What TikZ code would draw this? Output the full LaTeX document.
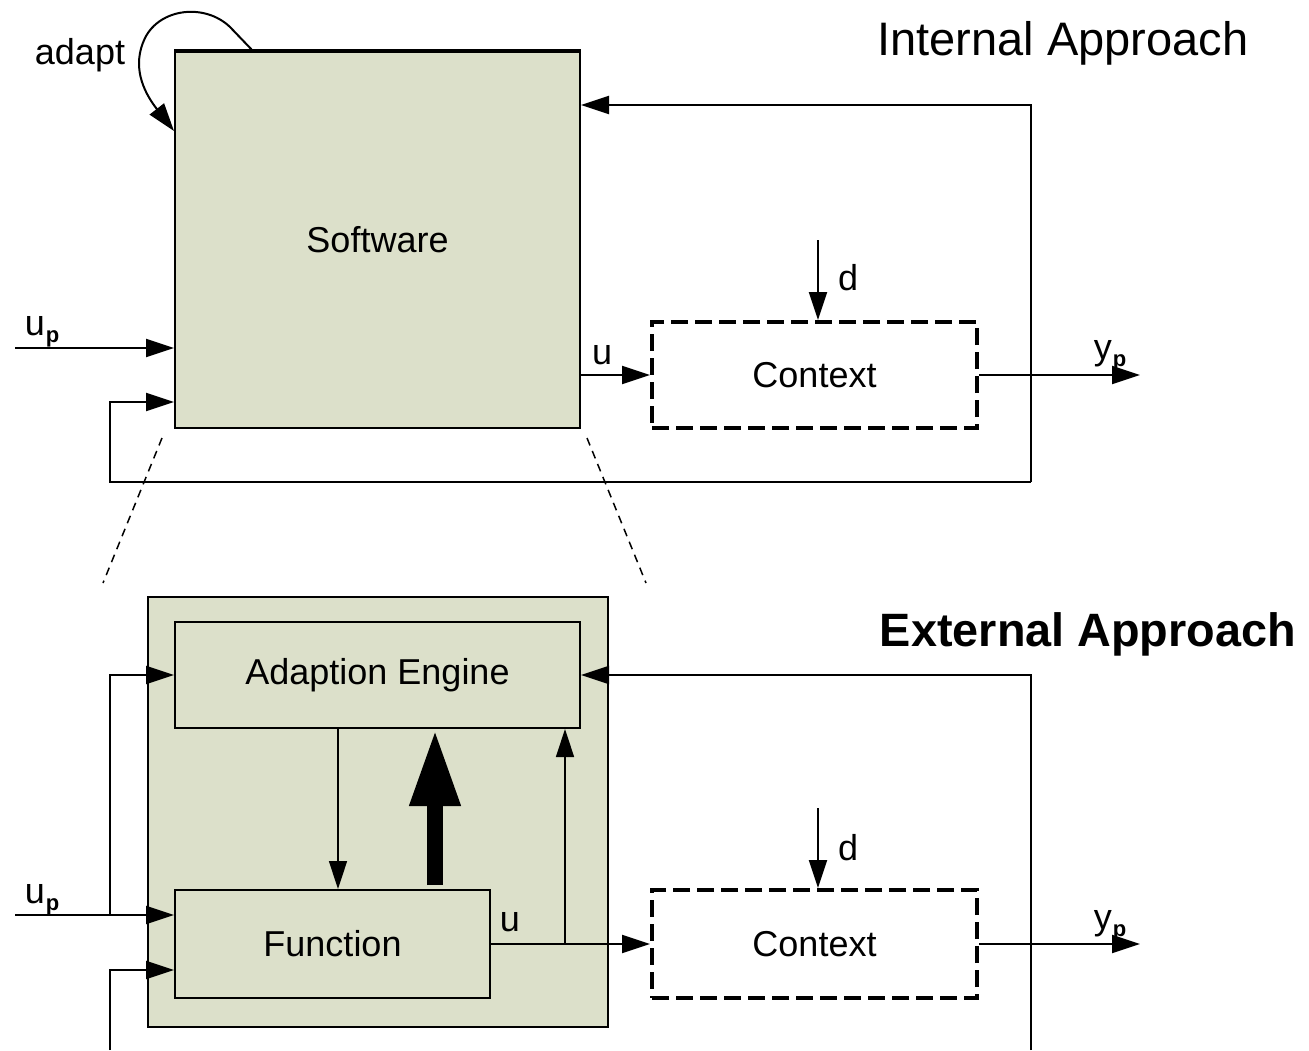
\documentclass[tikz,border=0pt]{standalone}
\usepackage{fontspec}
\setmainfont{Liberation Sans}
\usetikzlibrary{arrows.meta,calc}
\definecolor{boxfill}{RGB}{220,224,202}
\tikzset{
  every node/.style={font=\fontsize{18}{21}\selectfont},
  block/.style={draw, line width=1pt, fill=boxfill, inner sep=0pt},
  ctxbox/.style={draw, line width=2pt, dash pattern=on 8.5pt off 3.5pt, inner sep=0pt,
    minimum width=162.5pt},
  arr/.style={line width=1pt, -{Triangle[length=14pt,width=9pt]}},
  thinarr/.style={line width=0.75pt, -{Triangle[length=14pt,width=9pt]}},
  bigarr/.style={line width=8pt, -{Triangle[length=38.5pt,width=23.5pt]}},
  zoomline/.style={line width=0.75pt, dash pattern=on 4pt off 3pt},
  lbl/.style={inner sep=0pt},
  title/.style={inner sep=0pt, font=\fontsize{23.5}{28}\selectfont}
}
% signal name with a small bold "p" index
\newcommand{\subp}[1]{#1\kern0.5pt\raisebox{-0.35ex}{\fontsize{11}{12}\selectfont\bfseries p}}
\begin{document}
\begin{tikzpicture}[x=0.5pt,y=-0.5pt]
\useasboundingbox (0,0) rectangle (1309,1050);

% ---------------- internal approach ----------------
\node[title] (tint) at (1063,43) {Internal Approach};
\node[block, minimum width=202.5pt, minimum height=188pt] (sw) at (377.5,240) {Software};
\draw[line width=2pt] (sw.north west) -- (sw.north east);
\node[ctxbox, minimum height=53pt] (ctx) at (814.5,375) {Context};

% self adaptation loop
\node[lbl] (adapt) at (80,55) {adapt};
\coordinate (ls) at (253,51);
\coordinate (le) at (174,131);
\draw[arr] (ls) -- (230,27) .. controls (205,3) and (160,8) .. (145,38)
  .. controls (132,65) and (142,90) .. (le);

% inputs and outputs
\coordinate (upin) at (15,348);
\draw[arr] (upin) -- (upin -| sw.west);
\node[lbl] (uplbl) at (42,332) {\subp{u}};
\draw[arr] (ctx.west -| sw.east) -- (ctx.west);
\node[lbl] (ulbl) at (602,355) {u};
\coordinate (din) at (818,240);
\draw[arr] (din) -- (din |- ctx.north);
\node[lbl] (dlbl) at (848,278) {d};
\draw[arr] (ctx.east) -- ++(161,0) coordinate (ypout);
\node[lbl] (yplbl) at (1110,356) {\subp{y}};

% feedback loop
\coordinate (fbtr) at (1031,105);
\coordinate (fbbl) at (110,482);
\coordinate (fbin) at (110,402);
\draw[arr] (fbtr |- fbbl) -- (fbtr) -- (fbtr -| sw.east);
\draw[arr] (fbtr |- fbbl) -- (fbbl) -- (fbin) -- (fbin -| sw.west);

% zoom lines
\coordinate (z1a) at (162,438); \coordinate (z1b) at (103,583);
\coordinate (z2a) at (587,438); \coordinate (z2b) at (646,583);
\draw[zoomline] (z1a) -- (z1b);
\draw[zoomline] (z2a) -- (z2b);

% ---------------- external approach ----------------
\node[title, font=\fontsize{23.4}{28}\selectfont\bfseries] (text) at (1088,634) {External Approach};
\node[block, minimum width=230pt, minimum height=215pt] (outer) at (378,812) {};
\node[block, minimum width=202.5pt, minimum height=53pt] (ae) at (377.5,675) {Adaption Engine};
\node[block, minimum width=157.5pt, minimum height=54pt] (fn) at (332.5,944) {Function};
\node[ctxbox, minimum height=54pt] (ctx2) at (814.5,944) {Context};

% engine -> function and function -> engine
\coordinate (c1) at (338,0);
\draw[thinarr] (c1 |- ae.south) -- (c1 |- fn.north);
\coordinate (c2) at (435,0);
\draw[bigarr, shorten <=2pt] (c2 |- fn.north) -- (c2 |- ae.south);

% function output
\draw[arr] (fn.east) -- (ctx2.west);
\node[lbl] (ulbl2) at (510,922) {u};
\coordinate (br) at (565,0);
\draw[thinarr] (br |- fn.east) -- (br |- ae.south);

% plant input
\coordinate (up2) at (15,915);
\coordinate (j2) at (110,915);
\draw[arr] (up2) -- (up2 -| fn.west);
\draw[arr] (j2) -- (j2 |- ae.west) -- (ae.west);
\node[lbl] (uplbl2) at (42,900) {\subp{u}};

% disturbance and output
\coordinate (din2) at (818,808);
\draw[arr] (din2) -- (din2 |- ctx2.north);
\node[lbl] (dlbl2) at (848,848) {d};
\draw[arr] (ctx2.east) -- ++(161,0) coordinate (ypout2);
\node[lbl] (yplbl2) at (1110,926) {\subp{y}};

% feedback lines
\coordinate (fb2) at (1031,675);
\coordinate (fb2b) at (1031,1050);
\draw[arr] (fb2b) -- (fb2) -- (fb2 -| ae.east);
\coordinate (fb3) at (110,1050);
\coordinate (fb3t) at (110,970);
\draw[arr] (fb3) -- (fb3t) -- (fb3t -| fn.west);
\end{tikzpicture}
\end{document}
